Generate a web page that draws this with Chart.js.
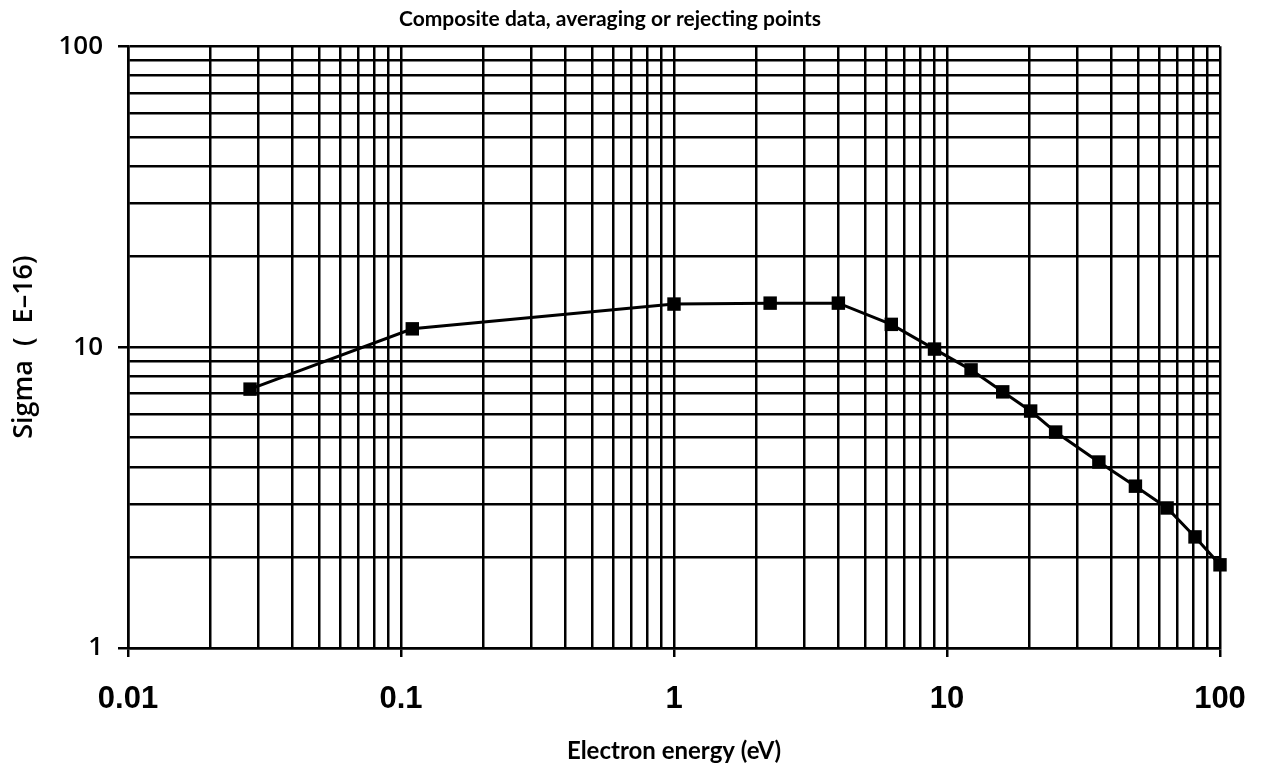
<!DOCTYPE html>
<html>
<head>
<meta charset="utf-8">
<script src="https://cdn.jsdelivr.net/npm/chart.js@4"></script>
<style>
  html, body { margin: 0; padding: 0; background: #fff; }
  #wrap { width: 1262px; height: 768px; }
</style>
</head>
<body>
<div id="wrap"><canvas id="grafica"></canvas></div>
<script>
// electron energy (eV) and cross section (E-16)
var energia = [0.028, 0.11, 1, 2.25, 4, 6.25, 9, 12.25, 16, 20.25, 25, 36, 49, 64, 81, 100];
var sigma = [7.25, 11.5, 13.9, 14.0, 14.0, 11.9, 9.85, 8.4, 7.1, 6.13, 5.22, 4.15, 3.45, 2.92, 2.34, 1.89];

var decadasX = [0.01, 0.1, 1, 10, 100];
var decadasY = [1, 10, 100];
var etiquetasX = ["0.01", "0.1", "1", "10", "100"];
var etiquetasY = ["1", "10", "100"];
var multiplos = [1, 2, 3, 4, 5, 6, 7, 8, 9];

function marcas(decadas) {
    var lista = [];
    for (var i = 0; i < decadas.length - 1; i++) {
        multiplos.forEach(function (m) { lista.push(+(decadas[i] * m).toPrecision(3)); });
    }
    lista.push(decadas[decadas.length - 1]);
    return lista;
}

function etiqueta(decadas, etiquetas, v) {
    var i = decadas.findIndex(function (d) { return Math.abs(d - v) < d * 1e-6; });
    return i >= 0 ? etiquetas[i] : "";
}

function esDecada(decadas, v) {
    return decadas.some(function (d) { return Math.abs(d - v) < d * 1e-6; });
}

var puntos = energia.map(function (e, i) { return { x: e, y: sigma[i] }; });

var ctx = document.getElementById("grafica").getContext("2d");
var grafica = new Chart(ctx, {
    type: "line",
    data: {
        datasets: [{
            label: "Composite",
            data: puntos,
            borderColor: "#000",
            backgroundColor: "#000",
            borderWidth: 3,
            pointStyle: "rect",
            pointRadius: 9.5,
            pointBorderWidth: 0,
            tension: 0,
            clip: false
        }]
    },
    options: {
        responsive: true,
        maintainAspectRatio: false,
        animation: false,
        layout: { padding: { left: 0, right: 42, top: 0, bottom: 0 } },
        plugins: {
            legend: { display: false },
            tooltip: { enabled: false },
            title: {
                display: true,
                text: "Composite data, averaging or rejecting points",
                color: "#000",
                font: { family: "Lato", size: 21, weight: "bold" },
                padding: { top: 7, bottom: 14 }
            }
        },
        scales: {
            x: {
                type: "logarithmic",
                min: 0.01,
                max: 100,
                afterBuildTicks: function (scale) {
                    scale.ticks = marcas(decadasX).map(function (v) { return { value: v }; });
                },
                afterFit: function (scale) {
                    scale.height = 120;
                    scale.paddingLeft = 0;
                    scale.paddingRight = 0;
                },
                ticks: {
                    autoSkip: false,
                    maxRotation: 0,
                    color: "#000",
                    padding: 24,
                    font: { family: "Liberation Sans", size: 31, weight: "bold" },
                    callback: function (v) { return etiqueta(decadasX, etiquetasX, v); }
                },
                grid: {
                    color: "#000",
                    lineWidth: 2.5,
                    tickLength: 9,
                    tickWidth: 2.5,
                    tickColor: function (c) { return esDecada(decadasX, c.tick.value) ? "#000" : "rgba(0,0,0,0)"; }
                },
                border: { color: "#000", width: 2.5 },
                title: {
                    display: true,
                    text: "Electron energy (eV)",
                    color: "#000",
                    font: { family: "Lato", size: 24, weight: "bold" },
                    padding: { top: 0, bottom: 2 }
                }
            },
            y: {
                type: "logarithmic",
                min: 1,
                max: 100,
                afterBuildTicks: function (scale) {
                    scale.ticks = marcas(decadasY).map(function (v) { return { value: v }; });
                },
                afterFit: function (scale) { scale.width = 128; },
                ticks: {
                    autoSkip: false,
                    color: "#000",
                    padding: 15,
                    font: { family: "Open Sans", size: 26, weight: "600" },
                    callback: function (v) { return etiqueta(decadasY, etiquetasY, v); }
                },
                grid: {
                    color: "#000",
                    lineWidth: 2.5,
                    tickLength: 10,
                    tickWidth: 2.5,
                    tickColor: function (c) { return esDecada(decadasY, c.tick.value) ? "#000" : "rgba(0,0,0,0)"; }
                },
                border: { color: "#000", width: 2.5 },
                title: {
                    display: true,
                    text: "Sigma  (  E–16)",
                    color: "#000",
                    font: { family: "Open Sans", size: 27, weight: "600" },
                    padding: { top: 8, bottom: 0 }
                }
            }
        }
    }
});
</script>
</body>
</html>
